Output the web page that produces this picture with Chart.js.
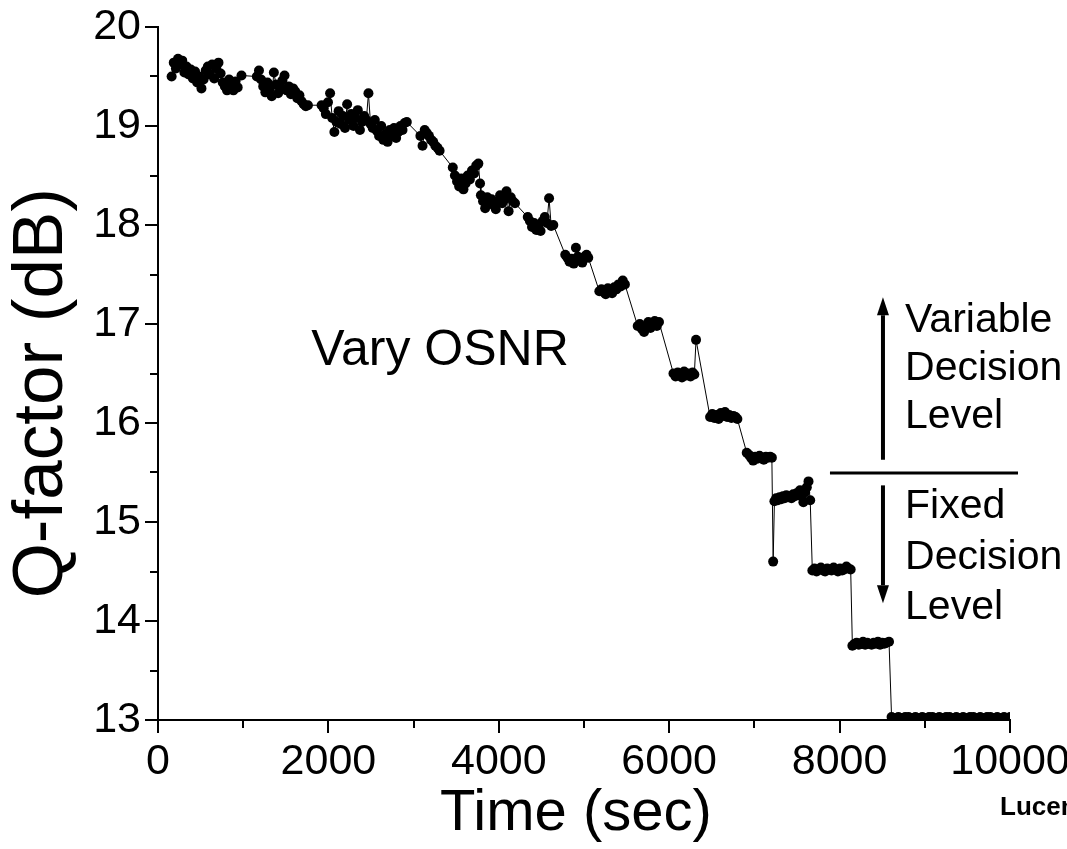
<!DOCTYPE html>
<html>
<head>
<meta charset="utf-8">
<script src="https://cdn.jsdelivr.net/npm/chart.js@4/dist/chart.umd.min.js"></script>
<style>
html,body{margin:0;padding:0;background:#fff;}
#wrap{width:1067px;height:849px;position:relative;overflow:hidden;}
canvas{display:block;}
</style>
</head>
<body>
<div id="wrap"><canvas id="c" width="1067" height="849"></canvas></div>
<script>
// ---- data ----
const timeSec = [
  // run 1
  160,185,210,235,260,285,310,335,360,385,410,435,460,485,510,535,560,585,610,635,660,685,710,735,760,785,810,835,860,885,910,935,980,
  // run 2
  1160,1185,1210,1235,1260,1285,1310,1335,1360,1385,1410,1435,1460,1485,1510,1535,1560,1585,1610,1635,1660,1685,1710,1735,1760,
  // run 3
  1920,1945,1970,1995,2020,2045,2070,2095,2120,2145,2170,2195,2220,2245,2270,2295,2320,2345,2370,2395,2420,2445,2470,2495,2520,2545,2570,2595,2620,2645,2670,2695,2720,2745,2770,2795,2820,2845,2870,2895,2920,
  // run 4
  3080,3105,3130,3155,3180,3205,3230,3255,3280,3305,
  // run 5
  3460,3485,3510,3535,3560,3585,3610,3635,3660,3685,3710,3735,3760,3780,
  // run 6
  3790,3815,3840,3865,3890,3915,3940,3965,3990,4015,4040,4065,4090,4115,4140,4165,4190,
  // run 7
  4340,4365,4390,4415,4440,4465,4490,4515,4540,4565,4590,4615,4640,
  // run 8
  4780,4805,4830,4855,4880,4905,4930,4955,4980,5005,5030,5050,
  // run 9
  5180,5205,5230,5255,5280,5305,5330,5355,5380,5405,5430,5455,5480,
  // run 10
  5630,5655,5680,5705,5730,5755,5780,5805,5830,5855,5880,
  // run 11
  6050,6075,6100,6125,6150,6175,6200,6225,6250,6275,6295,6315,
  // run 12
  6480,6505,6530,6555,6580,6605,6630,6655,6680,6705,6730,6755,6780,6800,
  // run 13
  6910,6935,6960,6985,7010,7035,7060,7085,7110,7135,7160,7185,7205,7220,
  // run 14
  7235,7255,7275,7295,7315,7335,7355,7375,7395,7415,7435,7455,7475,7495,7515,7535,7555,7575,7595,7615,7635,7655,
  // run 15
  7680,7705,7730,7755,7780,7805,7830,7855,7880,7905,7930,7955,7980,8005,8030,8055,8080,8105,8130,
  // run 16
  8150,8175,8200,8225,8250,8275,8300,8325,8350,8375,8400,8425,8450,8475,8500,8525,8550,8580,
  // run 17
  8610,8650,8690,8730,8770,8810,8850,8890,8930,8970,9010,9050,9090,9130,9170,9210,9250,9290,9330,9370,9410,9450,9490,9530,9570,9610,9650,9690,9730,9770,9810,9850,9890,9930,9970,10000
];
const qFactorDb = [
  19.50,19.64,19.58,19.68,19.62,19.66,19.54,19.60,19.52,19.57,19.48,19.55,19.44,19.50,19.38,19.47,19.56,19.60,19.52,19.62,19.48,19.58,19.64,19.53,19.44,19.40,19.36,19.47,19.42,19.36,19.45,19.39,19.51,
  19.50,19.56,19.47,19.40,19.34,19.44,19.37,19.30,19.54,19.42,19.33,19.38,19.46,19.51,19.36,19.40,19.32,19.38,19.35,19.28,19.31,19.25,19.22,19.20,19.21,
  19.21,19.18,19.12,19.24,19.33,19.08,18.94,19.04,19.15,19.02,19.10,18.98,19.22,19.06,19.12,19.00,19.08,19.16,18.96,19.04,19.10,19.06,19.33,19.02,18.98,19.06,18.95,18.90,19.00,18.86,18.92,18.84,18.96,18.90,18.98,18.88,18.94,19.00,18.96,19.03,19.04,
  18.90,18.80,18.96,18.93,18.90,18.86,18.84,18.80,18.78,18.75,
  18.58,18.50,18.44,18.39,18.47,18.36,18.42,18.50,18.46,18.55,18.52,18.60,18.62,18.42,
  18.30,18.24,18.17,18.28,18.22,18.26,18.20,18.16,18.24,18.30,18.22,18.26,18.34,18.14,18.28,18.24,18.22,
  18.08,18.04,17.98,18.02,17.95,18.00,17.94,18.04,18.08,18.02,18.27,17.99,18.00,
  17.70,17.67,17.63,17.66,17.61,17.77,17.68,17.64,17.62,17.68,17.70,17.67,
  17.33,17.35,17.32,17.30,17.36,17.33,17.31,17.37,17.35,17.40,17.38,17.44,17.40,
  16.98,17.00,16.95,16.92,16.97,17.02,16.96,17.00,17.03,16.98,17.02,
  16.50,16.47,16.51,16.49,16.46,16.52,16.48,16.50,16.47,16.51,16.49,16.84,
  16.06,16.09,16.05,16.08,16.04,16.10,16.07,16.11,16.06,16.08,16.05,16.07,16.06,16.04,
  15.70,15.68,15.65,15.62,15.66,15.64,15.67,15.65,15.63,15.66,15.65,15.66,15.65,14.60,
  15.21,15.24,15.22,15.25,15.23,15.26,15.24,15.27,15.25,15.26,15.24,15.28,15.26,15.29,15.27,15.32,15.26,15.20,15.30,15.35,15.41,15.22,
  14.51,14.53,14.50,14.52,14.54,14.51,14.50,14.53,14.52,14.51,14.54,14.52,14.50,14.53,14.51,14.52,14.55,14.53,14.52,
  13.75,13.77,13.78,13.76,13.77,13.79,13.76,13.78,13.77,13.76,13.78,13.77,13.79,13.76,13.78,13.77,13.78,13.79,
  13.03,13.02,13.03,13.02,13.03,13.03,13.02,13.03,13.02,13.03,13.02,13.03,13.03,13.02,13.03,13.02,13.03,13.03,13.02,13.03,13.02,13.03,13.02,13.03,13.03,13.02,13.03,13.02,13.03,13.03,13.02,13.03,13.02,13.03,13.02,13.03
];
const xMinorTicks = [1000,3000,5000,7000,9000];
const yMinorTicks = [13.5,14.5,15.5,16.5,17.5,18.5,19.5];
const xAxisTitle = 'Time (sec)';
const yAxisTitle = 'Q-factor (dB)';
const noteLeft = 'Vary OSNR';
const noteUpper = ['Variable','Decision','Level'];
const noteLower = ['Fixed','Decision','Level'];
const logoText = 'Lucent Technologies';

// ---- chart ----
const FONT = '"Liberation Sans", Arial, Helvetica, sans-serif';
const points = timeSec.map((t, i) => ({x: t, y: qFactorDb[i]}));

const annotPlugin = {
  id: 'annot',
  afterDraw(chart) {
    const {ctx, scales: {x, y}} = chart;
    ctx.save();
    ctx.strokeStyle = '#000';
    ctx.fillStyle = '#000';
    // minor ticks
    ctx.lineWidth = 2;
    xMinorTicks.forEach(v => {
      const px = Math.round(x.getPixelForValue(v));
      ctx.beginPath(); ctx.moveTo(px, y.bottom); ctx.lineTo(px, y.bottom + 8); ctx.stroke();
    });
    yMinorTicks.forEach(v => {
      const py = Math.round(y.getPixelForValue(v));
      ctx.beginPath(); ctx.moveTo(x.left, py); ctx.lineTo(x.left - 8, py); ctx.stroke();
    });
    // "Vary OSNR"
    ctx.textAlign = 'left';
    ctx.textBaseline = 'alphabetic';
    ctx.font = '50px ' + FONT;
    ctx.fillText(noteLeft, x.getPixelForValue(1800), y.getPixelForValue(16.59));
    // right notes
    ctx.font = '41px ' + FONT;
    const tx = x.getPixelForValue(8768);
    [16.92, 16.43, 15.95].forEach((v, i) => ctx.fillText(noteUpper[i], tx, y.getPixelForValue(v)));
    [15.04, 14.53, 14.02].forEach((v, i) => ctx.fillText(noteLower[i], tx, y.getPixelForValue(v)));
    // separator
    ctx.lineWidth = 3;
    const sy = y.getPixelForValue(15.495);
    ctx.beginPath(); ctx.moveTo(x.getPixelForValue(7887), sy); ctx.lineTo(x.getPixelForValue(10094), sy); ctx.stroke();
    // arrows
    const ax = x.getPixelForValue(8509);
    function arrow(fromV, toV) {
      const y0 = y.getPixelForValue(fromV), y1 = y.getPixelForValue(toV);
      const dir = y1 < y0 ? -1 : 1;
      const head = 18;
      ctx.lineWidth = 4;
      ctx.beginPath(); ctx.moveTo(ax, y0); ctx.lineTo(ax, y1 - dir * head); ctx.stroke();
      ctx.beginPath();
      ctx.moveTo(ax, y1);
      ctx.lineTo(ax - 6, y1 - dir * head);
      ctx.lineTo(ax + 6, y1 - dir * head);
      ctx.closePath(); ctx.fill();
    }
    arrow(15.63, 17.27);
    arrow(15.37, 14.18);
    // logo text
    ctx.font = 'bold 26px ' + FONT;
    ctx.fillText(logoText, 1000, 815);
    ctx.restore();
  }
};

new Chart(document.getElementById('c'), {
  type: 'line',
  data: {
    datasets: [{
      data: points,
      borderColor: '#000',
      borderWidth: 1,
      backgroundColor: '#000',
      pointBackgroundColor: '#000',
      pointBorderWidth: 0,
      pointRadius: 5,
      tension: 0,
      fill: false
    }]
  },
  options: {
    responsive: false,
    animation: false,
    devicePixelRatio: 1,
    layout: {padding: {left: 0, top: 27, right: 57, bottom: 0}},
    plugins: {legend: {display: false}, tooltip: {enabled: false}},
    scales: {
      x: {
        type: 'linear', min: 0, max: 10000,
        ticks: {stepSize: 2000, color: '#000', font: {family: FONT, size: 43}, padding: 3, maxRotation: 0, autoSkip: false,
                callback: v => String(v)},
        grid: {display: true, drawOnChartArea: false, drawTicks: true, tickLength: 13, color: '#000', lineWidth: 2},
        border: {display: true, color: '#000', width: 2},
        title: {display: true, text: xAxisTitle + ' ', color: '#000', font: {family: FONT, size: 58}, padding: 0},
        afterFit: s => { s.height = 129; s.paddingLeft = 0; s.paddingRight = 0; }
      },
      y: {
        type: 'linear', min: 13, max: 20,
        ticks: {stepSize: 1, color: '#000', font: {family: FONT, size: 43}, padding: 4, autoSkip: false,
                callback: v => String(v)},
        grid: {display: true, drawOnChartArea: false, drawTicks: true, tickLength: 13, color: '#000', lineWidth: 2},
        border: {display: true, color: '#000', width: 2},
        title: {display: true, text: yAxisTitle + '  ', color: '#000', font: {family: FONT, size: 71}, padding: 0},
        afterFit: s => { s.width = 158; s.paddingTop = 0; s.paddingBottom = 0; }
      }
    }
  },
  plugins: [annotPlugin]
});
</script>
</body>
</html>
